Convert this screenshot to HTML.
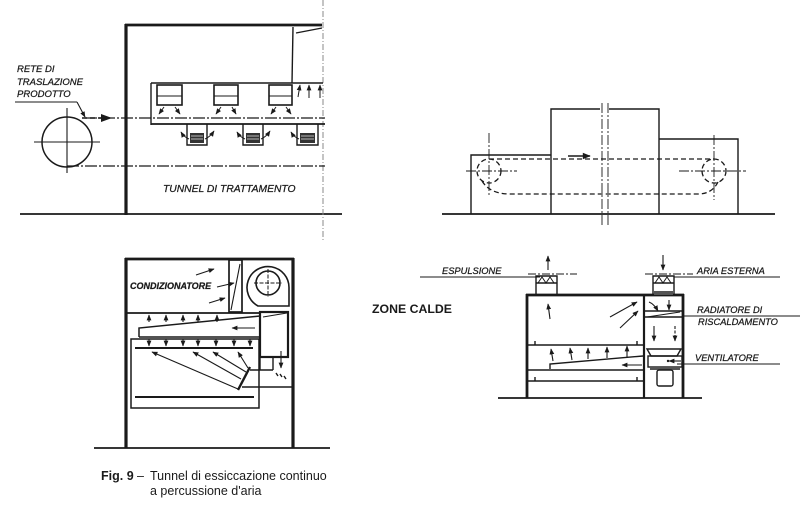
<!DOCTYPE html>
<html>
<head>
<meta charset="utf-8">
<style>
html,body{margin:0;padding:0;background:#fff;}
svg{display:block;}
.t{font-family:"Liberation Sans",sans-serif;font-style:italic;fill:#1a1a1a;stroke:#1a1a1a;stroke-width:0.25;}
.c{font-family:"Liberation Sans",sans-serif;fill:#1a1a1a;}
</style>
</head>
<body>
<svg width="800" height="507" viewBox="0 0 800 507" xmlns="http://www.w3.org/2000/svg">
<defs>
<marker id="a" viewBox="0 0 10 10" refX="9" refY="5" markerWidth="6" markerHeight="6" markerUnits="userSpaceOnUse" orient="auto"><path d="M0,1 L10,5 L0,9 z" fill="#1a1a1a"/></marker>
<marker id="b" viewBox="0 0 10 10" refX="9" refY="5" markerWidth="9" markerHeight="8" markerUnits="userSpaceOnUse" orient="auto"><path d="M0,1 L10,5 L0,9 z" fill="#1a1a1a"/></marker>
</defs>
<rect width="800" height="507" fill="#fff"/>

<!-- ================= TOP LEFT ================= -->
<g stroke="#1a1a1a" fill="none">
<line x1="20" y1="214" x2="342" y2="214" stroke-width="1.7"/>
<line x1="126" y1="24" x2="126" y2="215" stroke-width="3.2"/>
<line x1="125" y1="25" x2="322" y2="25" stroke-width="2.8"/>
<line x1="323" y1="0" x2="323" y2="240" stroke-width="1" stroke="#888" stroke-dasharray="6 2 1 2"/>
<line x1="293" y1="27" x2="292" y2="83" stroke-width="1.4"/>
<line x1="296" y1="33" x2="322" y2="28" stroke-width="1.4"/>
<line x1="151" y1="83" x2="323" y2="83" stroke-width="1.4"/>
<line x1="151" y1="83" x2="151" y2="125" stroke-width="1.4"/>
<line x1="151" y1="124" x2="325" y2="124" stroke-width="1.8"/>
<line x1="85" y1="118" x2="325" y2="118" stroke-width="1.2" stroke-dasharray="12 2 2 2"/>
<line x1="67" y1="166" x2="325" y2="166" stroke-width="1.2" stroke-dasharray="12 2 2 2"/>
<circle cx="67" cy="142" r="25" stroke-width="1.5"/>
<line x1="34" y1="142" x2="100" y2="142" stroke-width="1.1"/>
<line x1="67" y1="108" x2="67" y2="173" stroke-width="1.1"/>
<line x1="82" y1="118" x2="102" y2="118" stroke-width="1.4" stroke-dasharray="5 3"/>
<polygon points="101,114 112,118 101,122" fill="#1a1a1a" stroke="none"/>
<line x1="15" y1="102" x2="77" y2="102" stroke-width="1.1"/>
<line x1="77" y1="102" x2="85" y2="117" stroke-width="1.1" marker-end="url(#a)"/>
<rect x="157" y="85" width="25" height="20" stroke-width="1.6"/>
<line x1="157" y1="96" x2="182" y2="96" stroke-width="1.1"/>
<rect x="214" y="85" width="24" height="20" stroke-width="1.6"/>
<line x1="214" y1="96" x2="238" y2="96" stroke-width="1.1"/>
<rect x="269" y="85" width="23" height="20" stroke-width="1.6"/>
<line x1="269" y1="96" x2="292" y2="96" stroke-width="1.1"/>
<g stroke-width="1" marker-end="url(#a)">
<line x1="164" y1="107" x2="159" y2="114"/><line x1="175" y1="107" x2="180" y2="114"/>
<line x1="221" y1="107" x2="216" y2="114"/><line x1="232" y1="107" x2="236" y2="114"/>
<line x1="276" y1="107" x2="271" y2="114"/><line x1="286" y1="107" x2="291" y2="114"/>
<line x1="298" y1="97" x2="300" y2="85"/><line x1="309" y1="98" x2="309" y2="85"/><line x1="320" y1="98" x2="320" y2="85"/>
</g>
<g stroke-width="1.4">
<path d="M187,124 V145 H207 V124"/>
<path d="M243,124 V145 H263 V124"/>
<path d="M297,124 V145 H318 V124"/>
</g>
<g fill="#333" stroke="none">
<rect x="190" y="133" width="14" height="10"/>
<rect x="246" y="133" width="14" height="10"/>
<rect x="300" y="133" width="15" height="10"/>
</g>
<g stroke="#ddd" stroke-width="0.8">
<line x1="191" y1="136" x2="203" y2="136"/><line x1="191" y1="139" x2="203" y2="139"/>
<line x1="247" y1="136" x2="259" y2="136"/><line x1="247" y1="139" x2="259" y2="139"/>
<line x1="301" y1="136" x2="314" y2="136"/><line x1="301" y1="139" x2="314" y2="139"/>
</g>
<g stroke-width="1" marker-end="url(#a)">
<path d="M189,139 Q184,137 181,132"/><path d="M205,139 Q210,137 214,131"/>
<path d="M245,139 Q240,137 237,132"/><path d="M261,139 Q266,137 270,131"/>
<path d="M299,139 Q294,137 291,132"/>
</g>
</g>
<text class="t" x="17" y="72" font-size="9.5">RETE DI</text>
<text class="t" x="17" y="85" font-size="9.5">TRASLAZIONE</text>
<text class="t" x="17" y="97" font-size="9.5">PRODOTTO</text>
<text class="t" x="163" y="192" font-size="10.3">TUNNEL DI TRATTAMENTO</text>

<!-- ================= TOP RIGHT ================= -->
<g stroke="#1a1a1a" fill="none" stroke-width="1.4">
<line x1="442" y1="214" x2="775" y2="214" stroke-width="1.7"/>
<path d="M471,214 V155 H551"/>
<path d="M551,214 V109 H600 M609,109 H659 V214"/>
<path d="M659,139 H738 V214"/>
<g stroke-dasharray="5 3" stroke-width="1.3">
<line x1="489" y1="159" x2="714" y2="159"/>
<circle cx="489" cy="171" r="12"/>
<circle cx="714" cy="171" r="12"/>
<path d="M482,181 Q490,194 510,194 H698 Q712,194 718,182"/>
</g>
<g stroke-width="0.9" stroke-dasharray="10 2 2 2">
<line x1="466" y1="171" x2="517" y2="171"/>
<line x1="489" y1="133" x2="489" y2="197"/>
<line x1="679" y1="171" x2="746" y2="171"/>
<line x1="714" y1="135" x2="714" y2="200"/>
<line x1="602" y1="103" x2="602" y2="225"/>
<line x1="608" y1="103" x2="608" y2="225"/>
</g>
<line x1="568" y1="156" x2="590" y2="156" marker-end="url(#b)"/>
</g>

<!-- ================= BOTTOM LEFT ================= -->
<g stroke="#1a1a1a" fill="none">
<line x1="94" y1="448" x2="330" y2="448" stroke-width="1.7"/>
<line x1="126" y1="258" x2="126" y2="448" stroke-width="3.2"/>
<line x1="293" y1="258" x2="293" y2="448" stroke-width="3.2"/>
<line x1="125" y1="259" x2="294" y2="259" stroke-width="2.8"/>
<line x1="127" y1="313" x2="260" y2="313" stroke-width="1.7"/>
<rect x="229" y="260" width="13" height="52" stroke-width="1.7"/>
<line x1="231" y1="310" x2="240" y2="264" stroke-width="1.1"/>
<path d="M258,306 A21,21 0 1,1 289,288 L289,306 Z" stroke-width="1.6"/>
<circle cx="268" cy="283" r="12" stroke-width="1.6"/>
<line x1="254" y1="283" x2="282" y2="283" stroke-width="1" stroke-dasharray="4 1.5"/>
<line x1="268" y1="269" x2="268" y2="297" stroke-width="1" stroke-dasharray="4 1.5"/>
<rect x="260" y="312" width="28" height="45" stroke-width="2.2"/>
<line x1="263" y1="317" x2="287" y2="313" stroke-width="1.1"/>
<path d="M139,337 V328 L260,316" stroke-width="1.5"/>
<line x1="139" y1="337" x2="260" y2="337" stroke-width="1.5"/>
<path d="M131,339 H259 V408 H131 Z" stroke-width="1.5"/>
<line x1="135" y1="348" x2="253" y2="348" stroke-width="2"/>
<line x1="135" y1="397" x2="254" y2="397" stroke-width="2"/>
<path d="M260,357 V370 M273,357 V370 M250,370 H273 M242,387 H292" stroke-width="1.4"/>
<line x1="238" y1="390" x2="250" y2="367" stroke-width="2.4"/>
<g stroke-width="1.1" marker-end="url(#a)">
<line x1="255" y1="328" x2="232" y2="328"/>
<line x1="149" y1="322" x2="149" y2="315"/><line x1="166" y1="322" x2="166" y2="315"/>
<line x1="183" y1="322" x2="183" y2="315"/><line x1="198" y1="322" x2="198" y2="315"/>
<line x1="217" y1="322" x2="217" y2="315"/>
<line x1="149" y1="339" x2="149" y2="346"/><line x1="166" y1="339" x2="166" y2="346"/>
<line x1="183" y1="339" x2="183" y2="346"/><line x1="198" y1="339" x2="198" y2="346"/>
<line x1="216" y1="339" x2="216" y2="346"/><line x1="234" y1="339" x2="234" y2="346"/>
<line x1="250" y1="339" x2="250" y2="346"/>
<line x1="238" y1="389" x2="152" y2="352"/>
<line x1="241" y1="379" x2="193" y2="352"/>
<line x1="246" y1="372" x2="213" y2="352"/>
<line x1="248" y1="368" x2="238" y2="352"/>
<line x1="281" y1="351" x2="281" y2="368"/>
<line x1="196" y1="275" x2="214" y2="269"/>
<line x1="217" y1="287" x2="234" y2="283"/>
<line x1="209" y1="303" x2="225" y2="298"/>
</g>
<path d="M276,373 l2,3 M280,374 l2,3 M284,376 l2,3" stroke-width="1.4"/>
</g>
<text class="t" x="130" y="289" font-size="9" font-weight="bold">CONDIZIONATORE</text>

<!-- ================= BOTTOM RIGHT ================= -->
<g stroke="#1a1a1a" fill="none">
<line x1="498" y1="398" x2="702" y2="398" stroke-width="1.7"/>
<line x1="527" y1="294" x2="527" y2="398" stroke-width="2.8"/>
<line x1="683" y1="294" x2="683" y2="398" stroke-width="2.8"/>
<line x1="644" y1="295" x2="644" y2="398" stroke-width="2.2"/>
<line x1="526" y1="295" x2="684" y2="295" stroke-width="2.8"/>
<path d="M536,295 V276 H557 V295 M536,283 H557" stroke-width="1.4"/>
<path d="M538,283 l4,-6 l4,6 l4,-6 l4,6" stroke-width="1"/>
<path d="M653,295 V276 H674 V295 M653,283 H674" stroke-width="1.4"/>
<path d="M655,283 l4,-6 l4,6 l4,-6 l4,6" stroke-width="1"/>
<rect x="654" y="291" width="19" height="4" fill="#555" stroke="none"/>
<line x1="528" y1="274" x2="577" y2="274" stroke-width="0.9" stroke-dasharray="8 2 2 2"/>
<line x1="645" y1="274" x2="693" y2="274" stroke-width="0.9" stroke-dasharray="8 2 2 2"/>
<line x1="420" y1="277" x2="540" y2="277" stroke-width="1.1"/>
<line x1="674" y1="277" x2="780" y2="277" stroke-width="1.1"/>
<line x1="683" y1="316" x2="800" y2="316" stroke-width="1.1"/>
<line x1="677" y1="364" x2="780" y2="364" stroke-width="1.1"/>
<line x1="527" y1="345" x2="644" y2="345" stroke-width="1.4"/>
<path d="M535,345 V341 M637,345 V341" stroke-width="1.4"/>
<path d="M550,369 V364 L643,356" stroke-width="1.4"/>
<line x1="527" y1="370" x2="644" y2="370" stroke-width="1.4"/>
<line x1="527" y1="381" x2="644" y2="381" stroke-width="1.4"/>
<path d="M535,381 V377 M637,381 V377" stroke-width="1.4"/>
<line x1="644" y1="311" x2="683" y2="311" stroke-width="1.4"/>
<line x1="644" y1="317" x2="683" y2="317" stroke-width="1.4"/>
<line x1="647" y1="317" x2="680" y2="312" stroke-width="1.1"/>
<polygon points="647,349 681,349 677,356 651,356" stroke-width="1.4"/>
<rect x="648" y="356" width="34" height="11" stroke-width="1.4"/>
<rect x="650" y="367" width="30" height="3" fill="#555" stroke="none"/>
<rect x="657" y="370" width="16" height="16" rx="2" stroke-width="1.4"/>
<circle cx="668" cy="361" r="1.2" fill="#1a1a1a" stroke="none"/>
<g stroke-width="1.1" marker-end="url(#a)">
<line x1="548" y1="270" x2="548" y2="256"/>
<line x1="663" y1="255" x2="663" y2="270"/>
<line x1="550" y1="319" x2="548" y2="304"/>
<line x1="610" y1="317" x2="637" y2="302"/>
<line x1="620" y1="328" x2="638" y2="311"/>
<path d="M649,302 Q654,304 658,311"/>
<line x1="669" y1="300" x2="669" y2="310"/>
<line x1="654" y1="326" x2="654" y2="341"/>
<line x1="675" y1="326" x2="675" y2="341" stroke-dasharray="3 1.5"/>
<line x1="553" y1="361" x2="551" y2="349"/>
<line x1="572" y1="360" x2="570" y2="348"/>
<line x1="588" y1="359" x2="588" y2="348"/>
<line x1="607" y1="358" x2="607" y2="347"/>
<line x1="627" y1="357" x2="627" y2="346"/>
<line x1="642" y1="365" x2="622" y2="365"/>
<line x1="681" y1="361" x2="669" y2="361"/>
</g>
</g>
<text class="t" x="442" y="274" font-size="9.3">ESPULSIONE</text>
<text class="t" x="697" y="274" font-size="9.3">ARIA ESTERNA</text>
<text class="t" x="697" y="313" font-size="9.3">RADIATORE DI</text>
<text class="t" x="698" y="325" font-size="9.3">RISCALDAMENTO</text>
<text class="t" x="695" y="361" font-size="9.3">VENTILATORE</text>

<text class="c" x="372" y="313" font-size="12.3" font-weight="bold">ZONE CALDE</text>

<text class="c" x="101" y="480" font-size="12.5" font-weight="bold">Fig. 9</text>
<text class="c" x="137" y="480" font-size="12.5">–</text>
<text class="c" x="150" y="480" font-size="12.5">Tunnel di essiccazione continuo</text>
<text class="c" x="150" y="495" font-size="12.5">a percussione d'aria</text>
</svg>
</body>
</html>
